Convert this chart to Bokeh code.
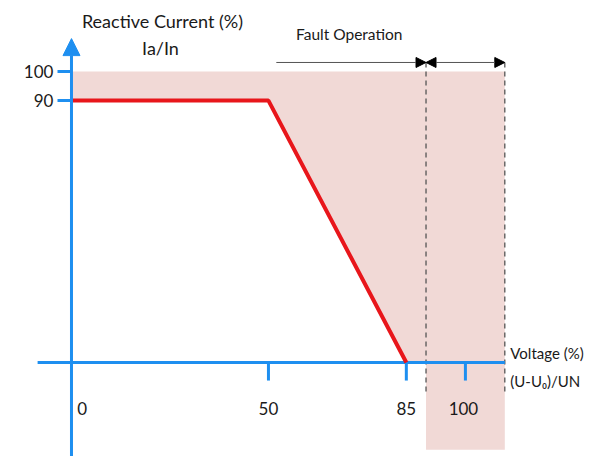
from bokeh.plotting import figure
from bokeh.models import Arrow, NormalHead, ColumnDataSource, Label
from bokeh.core.properties import value
from bokeh.embed import file_html
from bokeh.resources import INLINE

# ---- data ----
voltage = [0, 50, 85]          # (U-U0)/UN %
current = [90, 90, 0]          # Ia/In %
x_ticks = [50, 85, 100]
x_tick_labels = ["0", "50", "85", "100"]
x_tick_label_pos = [2.7, 50, 85, 99.5]
y_ticks = [90, 100]
y_tick_labels = ["90", "100"]
fault_start = 90
fault_end = 110
upper_limit = 100
shade_bottom = -30

BLUE = "#1e8ff0"
RED = "#e8161b"
SHADE = "#f1d9d6"
GRAY = "#555555"
TXT = "#1a1a1a"
FONT = value("Lato")

p = figure(width=589, height=456, x_range=(-18.02, 131.5), y_range=(-32.3, 124.4),
           output_backend="svg", toolbar_location=None, min_border=0,
           x_axis_location=None, y_axis_location=None)
p.grid.visible = False
p.outline_line_color = None
p.background_fill_color = "white"

# shaded operating region (above characteristic, up to 100 %, plus fault band)
sx = [0, fault_end, fault_end, fault_start, fault_start] + voltage[::-1]
sy = [upper_limit, upper_limit, shade_bottom, shade_bottom, 0] + current[::-1]
p.patch(sx, sy, fill_color=SHADE, line_color=None)

# dashed boundaries of fault band
for xv in [fault_start, fault_end]:
    p.line([xv, xv], [103.1, -10.7], line_color=GRAY, line_width=1.3, line_dash="5 4")

# axes
p.line([-8.6, fault_end], [0, 0], line_color=BLUE, line_width=3)
p.add_layout(Arrow(end=NormalHead(size=17, fill_color=BLUE, line_color=BLUE),
                   x_start=0, y_start=-40, x_end=0, y_end=111.3,
                   line_color=BLUE, line_width=3))
for xt in x_ticks:
    p.line([xt, xt], [0, -6.2], line_color=BLUE, line_width=3)
for yt in y_ticks:
    p.line([-3.55, 0], [yt, yt], line_color=BLUE, line_width=3)

# characteristic
p.line(voltage, current, line_color=RED, line_width=4)

# top arrows
p.add_layout(Arrow(end=NormalHead(size=10, fill_color="black", line_color="black"),
                   x_start=52, y_start=103.1, x_end=fault_start, y_end=103.1,
                   line_color=GRAY, line_width=1))
p.add_layout(Arrow(start=NormalHead(size=10, fill_color="black", line_color="black"),
                   end=NormalHead(size=10, fill_color="black", line_color="black"),
                   x_start=fault_start, y_start=103.1, x_end=fault_end, y_end=103.1,
                   line_color=GRAY, line_width=1))

# tick labels
xs = ColumnDataSource(dict(x=x_tick_label_pos, y=[-15.8] * 4, t=x_tick_labels))
p.text("x", "y", text="t", source=xs, text_font=FONT, text_font_size="17px",
       text_align="center", text_baseline="middle", text_color=TXT)
ys = ColumnDataSource(dict(x=[-4.6] * 2, y=y_ticks, t=y_tick_labels))
p.text("x", "y", text="t", source=ys, text_font=FONT, text_font_size="17px",
       text_align="right", text_baseline="middle", text_color=TXT)

# titles
for txt, x, y, al in [("Reactive Current (%)", 23.1, 117.5, "center"),
                      ("Ia/In", 22.6, 108.2, "center")]:
    p.add_layout(Label(x=x, y=y, text=txt, text_font="Lato", text_font_size="18px",
                       text_align=al, text_baseline="middle", text_color=TXT))
for txt, y in [("Voltage (%)", 3.4), ("(U-U\u2080)/UN", -6.2)]:
    p.add_layout(Label(x=111.4, y=y, text=txt, text_font="Lato", text_font_size="15px",
                       text_align="left", text_baseline="middle", text_color=TXT))
p.add_layout(Label(x=57, y=113, text="Fault Operation", text_font="Lato",
                   text_font_size="15.5px", text_align="left", text_baseline="middle",
                   text_color=TXT))

open("out.html", "w").write(file_html(p, INLINE))
